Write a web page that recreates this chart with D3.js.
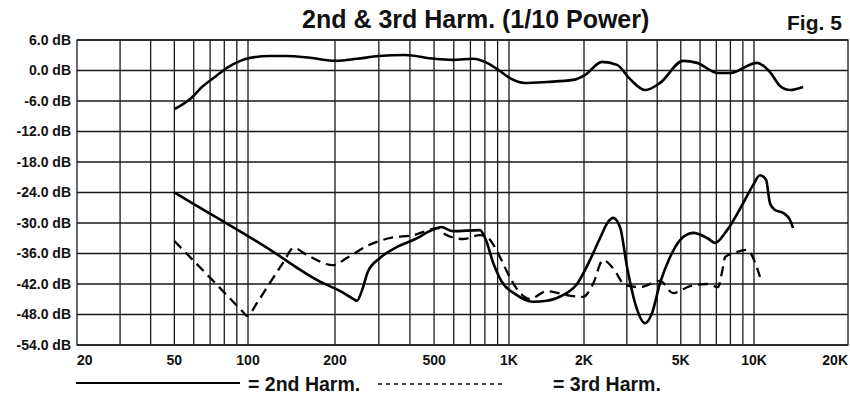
<!DOCTYPE html>
<meta charset="utf-8">
<script src="https://d3js.org/d3.v7.min.js"></script>
<style>
  body { margin: 0; background: #fff; }
  text { font-family: "Liberation Sans", Arial, Helvetica, sans-serif; font-weight: bold; fill: #111; }
</style>
<div id="chart"></div>
<script>

// frequency axis labels
var freqTicks = [20, 50, 100, 200, 500, 1000, 2000, 5000, 10000, 20000];
var freqLabels = ["20", "50", "100", "200", "500", "1K", "2K", "5K", "10K", "20K"];
var gridFreqs = [30, 40, 50, 60, 70, 80, 90, 100, 200, 300, 400, 500, 600, 700, 800, 900,
                 1000, 2000, 3000, 4000, 5000, 6000, 7000, 8000, 9000, 10000];

// level axis labels
var dbTicks = [6, 0, -6, -12, -18, -24, -30, -36, -42, -48, -54];

// frequency response (top curve), [Hz, dB]
var response = [
  [50, -7.6], [58, -5.6], [65, -3.2], [75, -0.9], [82, 0.5], [93, 1.9], [102, 2.5],
  [119, 2.85], [136, 2.85], [164, 2.5], [202, 1.9], [245, 2.3], [300, 2.85], [382, 3.05],
  [500, 2.3], [596, 2.1], [717, 2.3], [815, 1.5], [920, -0.1], [1009, -1.5], [1160, -2.45],
  [1420, -2.25], [1807, -1.85], [2019, -0.9], [2372, 1.7], [2734, 1.1], [3094, -1.7],
  [3565, -3.85], [4110, -2.45], [5110, 1.9], [5834, 1.5], [7118, -0.5], [7977, -0.5],
  [10220, 1.5], [11250, -0.3], [12120, -3.05], [13040, -3.85], [14360, -3.25]
];

// 2nd harmonic
var harm2 = [
  [50, -24], [58, -25.85], [115, -34.7], [177.5, -41.53], [209, -43.36], [234, -44.76],
  [245, -45.3], [257, -43.2], [271, -39.6], [303, -36.9],
  [355, -34.7], [412, -33.35], [514, -31.0], [533, -30.8], [596, -31.6], [764, -31.4],
  [808, -33.35], [862, -37.7], [937, -41.6], [1057, -43.95], [1248, -45.5], [1420, -45.3],
  [1648, -44.2], [1875, -42.0], [2116, -37.3], [2328, -32.95], [2511, -29.8], [2632, -29.0],
  [2812, -30.8], [3006, -38.65], [3242, -45.7], [3565, -49.7], [3810, -47.7], [4110, -41.8],
  [4518, -36.7], [4966, -33.35], [5620, -31.95], [6416, -32.95], [6920, -33.9], [7754, -31.4],
  [9022, -26.1], [9922, -22.5], [10450, -20.6], [10930, -21.5], [11250, -26.1], [11680, -27.45],
  [12390, -28.0], [13040, -29.4], [13340, -31.0]
];

// 3rd harmonic
var harm3 = [
  [50, -33.55], [79, -43.4], [91, -46.5], [95.4, -47.5], [99, -48.3], [108, -45.5], [119, -41.8],
  [132, -37.9], [144, -34.9], [160, -36.3], [197, -38.3], [223, -36.9], [269, -34.5],
  [333, -32.95], [412, -32.4], [519, -31.0], [553, -32.2], [653, -33.15], [764, -32.4],
  [815, -32.75], [920, -36.7], [991, -40.0], [1077, -43.0], [1214, -44.95], [1420, -43.4],
  [1710, -44.2], [1982, -44.55], [2178, -42.0], [2394, -37.3], [2632, -38.85], [2950, -42.2],
  [3400, -42.6], [4110, -41.4], [4648, -43.8], [5462, -42.4], [6416, -42.0], [7118, -42.6],
  [7395, -39.6], [7608, -36.7], [8526, -35.7], [9372, -35.3], [10070, -37.7], [10450, -40.6]
];

var width = 850, height = 405;

var svg = d3.select("#chart")
  .append("svg")
    .attr("width", width)
    .attr("height", height);

// the paper chart is pasted together, so the decades are not all the same length
var x = d3.scaleLog()
  .domain([20, 100, 200, 1000, 2000, 10000, 20000])
  .range([77, 248, 335, 509, 584, 754, 848]);

var y = d3.scaleLinear()
  .domain([6, -54])
  .range([40, 345]);

var grid = svg.append("g")
  .attr("stroke", "#1a1a1a")
  .attr("stroke-width", 1.3);

// horizontal lines
grid.selectAll("line.h")
  .data(dbTicks)
  .enter()
  .append("line")
    .attr("x1", x(20))
    .attr("x2", x(20000))
    .attr("y1", function (d) { return y(d); })
    .attr("y2", function (d) { return y(d); });

// vertical lines
grid.selectAll("line.v")
  .data(gridFreqs)
  .enter()
  .append("line")
    .attr("x1", function (d) { return x(d); })
    .attr("x2", function (d) { return x(d); })
    .attr("y1", y(6))
    .attr("y2", y(-54));

// frame
grid.append("rect")
  .attr("x", x(20))
  .attr("y", y(6))
  .attr("width", x(20000) - x(20))
  .attr("height", y(-54) - y(6))
  .attr("fill", "none");

// y labels
svg.append("g")
  .selectAll("text")
  .data(dbTicks)
  .enter()
  .append("text")
    .attr("x", 71)
    .attr("y", function (d) { return y(d); })
    .attr("dy", "0.35em")
    .attr("text-anchor", "end")
    .style("font-size", "14px")
    .text(function (d) { return d.toFixed(1) + " dB"; });

// x labels
svg.append("g")
  .selectAll("text")
  .data(freqTicks)
  .enter()
  .append("text")
    .attr("x", function (d) { return x(d); })
    .attr("y", 365)
    .attr("text-anchor", function (d, i) {
      return i == 0 ? "start" : (i == freqTicks.length - 1 ? "end" : "middle");
    })
    .style("font-size", "14px")
    .text(function (d, i) { return freqLabels[i]; });

var line = d3.line()
  .x(function (d) { return x(d[0]); })
  .y(function (d) { return y(d[1]); })
  .curve(d3.curveMonotoneX);

svg.append("path")
  .datum(response)
  .attr("fill", "none")
  .attr("stroke", "#000")
  .attr("stroke-width", 2.6)
  .attr("d", line);

svg.append("path")
  .datum(harm2)
  .attr("fill", "none")
  .attr("stroke", "#000")
  .attr("stroke-width", 2.6)
  .attr("d", line);

svg.append("path")
  .datum(harm3)
  .attr("fill", "none")
  .attr("stroke", "#000")
  .attr("stroke-width", 2.3)
  .attr("stroke-dasharray", "10,6")
  .attr("d", line);

// title
svg.append("text")
  .attr("x", 302).attr("y", 28)
  .style("font-size", "25px")
  .text("2nd & 3rd Harm.  (1/10 Power)");

svg.append("text")
  .attr("x", 787).attr("y", 30)
  .style("font-size", "21px")
  .text("Fig. 5");

// legend
svg.append("line")
  .attr("x1", 76).attr("x2", 240).attr("y1", 383).attr("y2", 383)
  .attr("stroke", "#000").attr("stroke-width", 2);
svg.append("text")
  .attr("x", 248).attr("y", 391)
  .style("font-size", "19.5px")
  .text("= 2nd Harm.");

svg.append("line")
  .attr("x1", 378).attr("x2", 506).attr("y1", 384).attr("y2", 384)
  .attr("stroke", "#000").attr("stroke-width", 1.5)
  .attr("stroke-dasharray", "4,4");
svg.append("text")
  .attr("x", 553).attr("y", 391)
  .style("font-size", "19.5px")
  .text("= 3rd Harm.");

</script>
